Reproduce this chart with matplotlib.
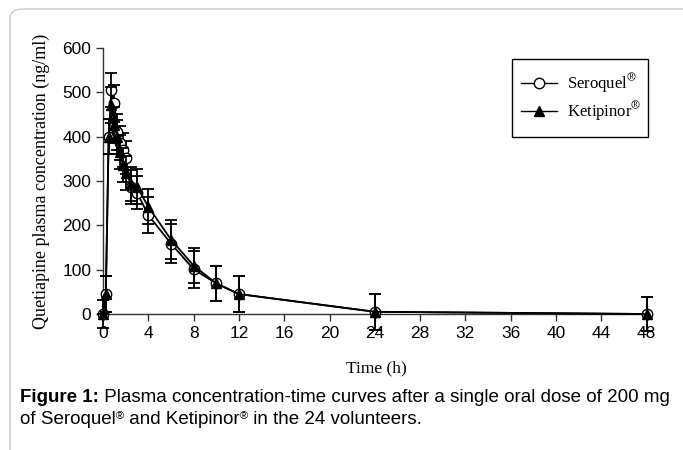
import numpy as np
import matplotlib.pyplot as plt
from matplotlib.patches import FancyBboxPatch, Rectangle
from matplotlib.lines import Line2D
from matplotlib.font_manager import FontProperties

# -------------------------
# Data
# -------------------------
time_h = [0, 0.25, 0.5, 0.75, 1, 1.25, 1.5, 1.75, 2, 2.5, 3, 4, 6, 8, 10, 12, 24, 48]

seroquel = [0, 45, 400, 505, 475, 411, 385, 370, 353, 287, 274, 223, 159, 101, 69, 45, 5, 0]
seroquel_sd = [32, 40, 40, 38, 41, 40, 38, 38, 38, 38, 38, 40, 44, 42, 40, 41, 40, 38]

ketipinor = [0, 45, 400, 471, 426, 400, 366, 336, 318, 293, 287, 242, 168, 109, 69, 45, 5, 0]
ketipinor_sd = [0, 40, 40, 40, 40, 38, 38, 38, 38, 38, 40, 40, 44, 40, 40, 41, 40, 38]

x_ticks = list(range(0, 49, 4))
y_ticks = list(range(0, 601, 100))

serif = "Liberation Serif"
sans = "Liberation Sans"

W, H = 683, 450
fig = plt.figure(figsize=(W / 100, H / 100), dpi=100)


def fx(px):
    return px / W


def fy(py):
    return 1 - py / H


# rounded frame around the whole figure
frame = FancyBboxPatch((fx(10), -0.1), 1.2, 1.1 - 9 / H,
                       boxstyle="round,pad=0,rounding_size=0.02",
                       transform=fig.transFigure, facecolor="none",
                       edgecolor="#c8c8c8", linewidth=1.0)
fig.patches.append(frame)

ax = fig.add_axes([fx(103), fy(314), 547 / W, 266 / H])

ax.errorbar(time_h, seroquel, yerr=seroquel_sd, color="black", lw=1.3,
            marker="o", markersize=7.5, markerfacecolor="white",
            markeredgecolor="black", capsize=4, elinewidth=1.3,
            capthick=1.3, clip_on=False, zorder=3)
ax.errorbar(time_h, ketipinor, yerr=ketipinor_sd, color="black", lw=1.3,
            marker="^", markersize=7, markerfacecolor="black",
            markeredgecolor="black", capsize=4, elinewidth=1.3,
            capthick=1.3, clip_on=False, zorder=4)

ax.set_xlim(0, 48.3)
ax.set_ylim(0, 600)
ax.set_xticks(x_ticks)
ax.set_yticks(y_ticks)
ax.spines["top"].set_visible(False)
ax.spines["right"].set_visible(False)
for s in ("left", "bottom"):
    ax.spines[s].set_linewidth(1.0)
    ax.spines[s].set_color("#333333")
ax.tick_params(direction="out", length=5, width=1.0, color="#333333",
               labelsize=12.5)
for lab in ax.get_xticklabels() + ax.get_yticklabels():
    lab.set_fontfamily(sans)

ax.set_xlabel("Time (h)", fontfamily=serif, fontsize=12.5, labelpad=14)
ax.set_ylabel("Quetiapine plasma concentration (ng/ml)", fontfamily=serif,
              fontsize=13, labelpad=9)

# legend, drawn by hand so the box matches the original
fig.patches.append(Rectangle((fx(512), fy(137)), 136 / W, 78 / H,
                             transform=fig.transFigure, facecolor="white",
                             edgecolor="black", linewidth=1.0))
leg_font = FontProperties(family=serif, size=12, math_fontfamily="stix")
legend_rows = [
    ("Seroquel$^{®}$", dict(marker="o", markersize=7.5, markerfacecolor="white"), 83),
    ("Ketipinor$^{®}$", dict(marker="^", markersize=7, markerfacecolor="black"), 111),
]
for label, mk, row_y in legend_rows:
    fig.add_artist(Line2D([fx(521), fx(539), fx(557)], [fy(row_y)] * 3,
                          transform=fig.transFigure, color="black", lw=1.0,
                          markeredgecolor="black", markevery=[1], **mk))
    fig.text(fx(567), fy(row_y), label, fontproperties=leg_font,
             va="center", ha="left")

# caption, built from pieces so the bold part and the small ® fit in line
fig.canvas.draw()
renderer = fig.canvas.get_renderer()
cap_size = 13.5


def put_pieces(x0_px, y_px, pieces):
    x = x0_px
    for txt, kw, dy in pieces:
        t = fig.text(fx(x), fy(y_px - dy), txt, fontfamily=sans,
                     va="center", **kw)
        x = t.get_window_extent(renderer).x1


put_pieces(20, 397, [
    ("Figure 1:", dict(fontsize=cap_size, fontweight="bold"), 0),
    (" Plasma concentration-time curves after a single oral dose of 200 mg",
     dict(fontsize=cap_size), 0),
])
put_pieces(20, 420, [
    ("of Seroquel", dict(fontsize=cap_size), 0),
    ("®", dict(fontsize=8), 4),
    (" and Ketipinor", dict(fontsize=cap_size), 0),
    ("®", dict(fontsize=8), 4),
    (" in the 24 volunteers.", dict(fontsize=cap_size), 0),
])

fig.savefig("out.png", dpi=100)
